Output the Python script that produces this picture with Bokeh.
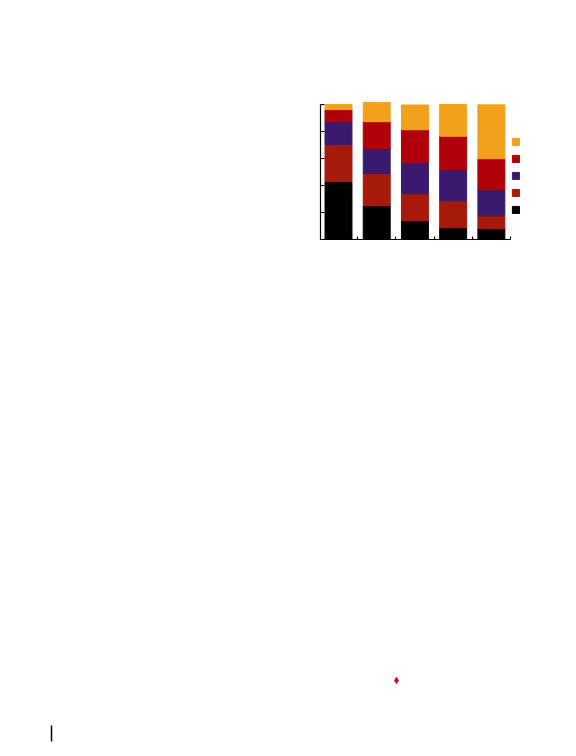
from bokeh.plotting import figure
from bokeh.models import Range1d, FixedTicker, Legend, LegendItem
from bokeh.core.properties import value
from bokeh.layouts import column
from bokeh.embed import file_html
from bokeh.resources import INLINE

# ---- data (percent shares, stacked bottom -> top) ----
groups = [1, 2, 3, 4, 5]
black = [43.0, 25.0, 14.0, 8.7, 8.2]
brown = [27.5, 24.0, 20.0, 20.0, 9.4]
purple = [17.0, 18.5, 23.0, 23.0, 19.4]
red = [9.0, 20.0, 24.5, 25.0, 23.0]
orange = [3.7, 14.5, 18.4, 23.6, 40.0]
series = ["black", "brown", "purple", "red", "orange"]
y_ticks = [0, 20, 40, 60, 80, 100]
x_ticks = [1.5, 2.5, 3.5, 4.5, 5.5]

colors = ["#000000", "#A51A0A", "#3A1A6E", "#B0000A", "#F2A11C"]

p = figure(width=560, height=270, output_backend="svg", toolbar_location=None,
           x_range=Range1d(0.529, 6.547), y_range=Range1d(0, 102.5),
           min_border_left=320, min_border_right=10, min_border_top=101, min_border_bottom=31)
p.frame_align = False
p.outline_line_color = None
p.xgrid.visible = False
p.ygrid.visible = False
p.background_fill_color = "white"
p.border_fill_color = "white"

data = dict(x=groups, black=black, brown=brown, purple=purple, red=red, orange=orange)
rs = p.vbar_stack(series, x="x", width=0.705, color=colors, line_width=1, source=data)

for ax in (p.xaxis[0], p.yaxis[0]):
    ax.axis_line_color = "black"
    ax.axis_line_width = 1.2
    ax.major_tick_line_color = "black"
    ax.major_tick_line_width = 1.2
    ax.major_tick_out = 0
    ax.minor_tick_line_color = None
    ax.major_label_text_font_size = "0px"

p.yaxis[0].ticker = FixedTicker(ticks=y_ticks)
p.yaxis[0].major_tick_in = 4
p.yaxis[0].bounds = (0, 100)
p.yaxis[0].major_label_overrides = {t: "" for t in y_ticks}
p.xaxis[0].ticker = FixedTicker(ticks=x_ticks)
p.xaxis[0].major_tick_in = 3
p.xaxis[0].bounds = (0.529, 5.5)
p.xaxis[0].major_label_overrides = {t: "" for t in x_ticks}

items = [LegendItem(label=value(" "), renderers=[r]) for r in reversed(rs)]
legend = Legend(items=items, location=(191, 25), glyph_width=9, glyph_height=9,
                label_height=9, spacing=8, padding=0, margin=0,
                label_text_font_size="6px", label_standoff=2,
                border_line_color=None, background_fill_alpha=0)
p.add_layout(legend, "center")

# ---- lower part of the page: small page marks ----
mark_line_x = [51, 51]
mark_line_y = [455, 471]
mark_dot_x = [396]
mark_dot_y = [410]

q = figure(width=560, height=480, output_backend="svg", toolbar_location=None,
           x_range=Range1d(0, 560), y_range=Range1d(480, 0),
           min_border_left=0, min_border_right=0, min_border_top=0, min_border_bottom=0)
q.frame_align = False
q.axis.visible = False
q.xgrid.visible = False
q.ygrid.visible = False
q.outline_line_color = None
q.line(mark_line_x, mark_line_y, line_color="black", line_width=1.5)
q.scatter(mark_dot_x, mark_dot_y, marker="diamond", size=6, color="#CC1020")

layout = column(p, q, spacing=0)
open("out.html", "w").write(file_html(layout, INLINE))
